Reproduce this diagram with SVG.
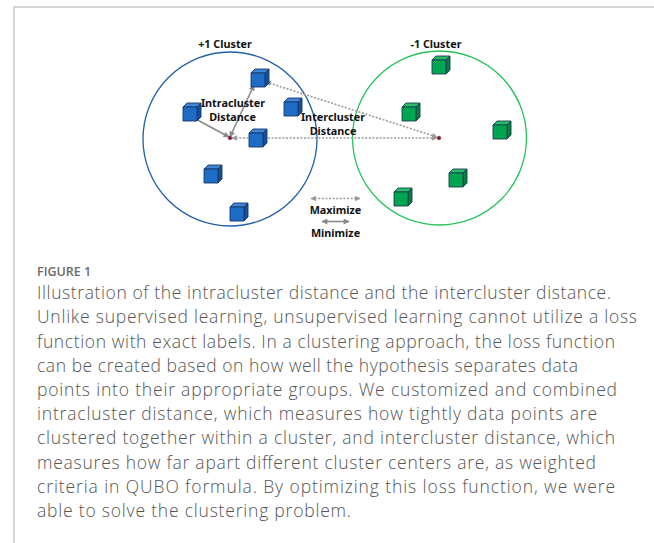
<svg xmlns="http://www.w3.org/2000/svg" xmlns:xlink="http://www.w3.org/1999/xlink" width="654" height="543" viewBox="0 0 654 543">
  <style>
    .frame { fill: none; stroke: #c8c8c8; stroke-width: 1.5; }
    .ring-pos { fill: none; stroke: #1f5fa8; stroke-width: 1.3; }
    .ring-neg { fill: none; stroke: #27c25a; stroke-width: 1.3; }
    .lbl { font-family: "Noto Sans", "Open Sans", sans-serif; font-weight: 700; font-size: 10.8px; fill: #111; text-anchor: middle; }
    .solid { fill: none; stroke: #8a8a8a; stroke-width: 1.6; marker-start: url(#headSolid); marker-end: url(#headSolid); }
    .dotted { fill: none; stroke: #9a9a9a; stroke-width: 1.6; stroke-dasharray: 2 1.6; marker-start: url(#headDot); marker-end: url(#headDot); }
    .centroid { fill: #c00000; stroke: #3a3a5a; stroke-width: 0.6; }
    .fig { font-family: "Open Sans", "Liberation Sans", sans-serif; font-weight: 600; font-size: 12.5px; fill: #6a6a6a; }
    .cap { font-family: "Open Sans", "Liberation Sans", sans-serif; font-weight: 300; font-size: 17.5px; fill: #555; }
  </style>
  <defs>
    <marker id="headSolid" viewBox="0 0 10 10" refX="9" refY="5" markerWidth="7" markerHeight="6" markerUnits="userSpaceOnUse" orient="auto-start-reverse">
      <path d="M0,0 L10,5 L0,10 z" fill="#8a8a8a"/>
    </marker>
    <marker id="headDot" viewBox="0 0 10 10" refX="9" refY="5" markerWidth="6" markerHeight="5.5" markerUnits="userSpaceOnUse" orient="auto-start-reverse">
      <path d="M0,0 L10,5 L0,10 z" fill="#9a9a9a"/>
    </marker>
    <!-- cube glyph: 14px front face, 4px depth -->
    <g id="cubeBlue" stroke="#17386a" stroke-width="0.9" stroke-linejoin="round">
      <path d="M0,4 L4,0 L18,0 L14,4 z" fill="#3f86d6"/>
      <path d="M14,4 L18,0 L18,14 L14,18 z" fill="#16509a"/>
      <rect x="0" y="4" width="14" height="14" fill="#1e6cc6"/>
    </g>
    <g id="cubeGreen" stroke="#1d3a55" stroke-width="0.9" stroke-linejoin="round">
      <path d="M0,4 L4,0 L18,0 L14,4 z" fill="#27bd64"/>
      <path d="M14,4 L18,0 L18,14 L14,18 z" fill="#00813c"/>
      <rect x="0" y="4" width="14" height="14" fill="#00a64f"/>
    </g>
  </defs>

  <rect width="654" height="543" fill="#ffffff"/>
  <path class="frame" d="M14,543 L14,7 L654,7"/>

  <!-- cluster boundaries -->
  <g id="cluster-pos">
    <circle class="ring-pos" cx="230" cy="139" r="87"/>
    <text class="lbl" x="225" y="48">+1 Cluster</text>
  </g>
  <g id="cluster-neg">
    <circle class="ring-neg" cx="439.5" cy="138" r="87"/>
    <text class="lbl" x="436" y="48">-1 Cluster</text>
  </g>

  <!-- distance connectors -->
  <g id="connectors">
    <line class="dotted" x1="232" y1="138" x2="437" y2="138"/>
    <line class="dotted" x1="266" y1="82" x2="437" y2="137"/>
    <line class="solid" x1="230" y1="137" x2="254" y2="85"/>
    <line class="solid" x1="229" y1="137" x2="192" y2="117"/>
  </g>

  <!-- +1 cluster points -->
  <g id="b1"><use xlink:href="#cubeBlue" x="251" y="69"/></g>
  <g id="b2"><use xlink:href="#cubeBlue" x="183" y="103"/></g>
  <g id="b3"><use xlink:href="#cubeBlue" x="284" y="98"/></g>
  <g id="b4"><use xlink:href="#cubeBlue" x="249" y="129"/></g>
  <g id="b5"><use xlink:href="#cubeBlue" x="204" y="165"/></g>
  <g id="b6"><use xlink:href="#cubeBlue" x="230" y="203"/></g>

  <!-- -1 cluster points -->
  <g id="g1"><use xlink:href="#cubeGreen" x="432" y="56"/></g>
  <g id="g2"><use xlink:href="#cubeGreen" x="402" y="103"/></g>
  <g id="g3"><use xlink:href="#cubeGreen" x="493" y="121"/></g>
  <g id="g4"><use xlink:href="#cubeGreen" x="449" y="169"/></g>
  <g id="g5"><use xlink:href="#cubeGreen" x="394" y="188"/></g>

  <!-- cluster centres -->
  <g id="centre-pos"><circle class="centroid" cx="230" cy="138" r="1.8"/></g>
  <g id="centre-neg"><circle class="centroid" cx="439" cy="138" r="1.8"/></g>

  <!-- distance labels -->
  <g id="label-intra">
    <text class="lbl" x="233" y="107">Intracluster</text>
    <text class="lbl" x="232.5" y="121">Distance</text>
  </g>
  <g id="label-inter">
    <text class="lbl" x="333" y="121">Intercluster</text>
    <text class="lbl" x="333" y="134.5">Distance</text>
  </g>

  <!-- legend -->
  <g id="legend">
    <line class="dotted" x1="311" y1="198.5" x2="360" y2="198.5"/>
    <text class="lbl" x="335.5" y="213.5">Maximize</text>
    <line class="solid" x1="322" y1="221.5" x2="349" y2="221.5"/>
    <text class="lbl" x="335.5" y="236.5">Minimize</text>
  </g>

  <!-- caption -->
  <g id="caption">
    <text class="fig" x="37" y="276">FIGURE 1</text>
    <text class="cap" x="37" y="299" textLength="574" lengthAdjust="spacing">Illustration of the intracluster distance and the intercluster distance.</text>
    <text class="cap" x="37" y="323" textLength="600" lengthAdjust="spacing">Unlike supervised learning, unsupervised learning cannot utilize a loss</text>
    <text class="cap" x="37" y="347.5" textLength="578" lengthAdjust="spacing">function with exact labels. In a clustering approach, the loss function</text>
    <text class="cap" x="37" y="371.5" textLength="541" lengthAdjust="spacing">can be created based on how well the hypothesis separates data</text>
    <text class="cap" x="37" y="396" textLength="580" lengthAdjust="spacing">points into their appropriate groups. We customized and combined</text>
    <text class="cap" x="37" y="420" textLength="560" lengthAdjust="spacing">intracluster distance, which measures how tightly data points are</text>
    <text class="cap" x="37" y="444" textLength="578" lengthAdjust="spacing">clustered together within a cluster, and intercluster distance, which</text>
    <text class="cap" x="37" y="468.5" textLength="559" lengthAdjust="spacing">measures how far apart different cluster centers are, as weighted</text>
    <text class="cap" x="37" y="493" textLength="578" lengthAdjust="spacing">criteria in QUBO formula. By optimizing this loss function, we were</text>
    <text class="cap" x="37" y="517" textLength="314" lengthAdjust="spacing">able to solve the clustering problem.</text>
  </g>
</svg>
